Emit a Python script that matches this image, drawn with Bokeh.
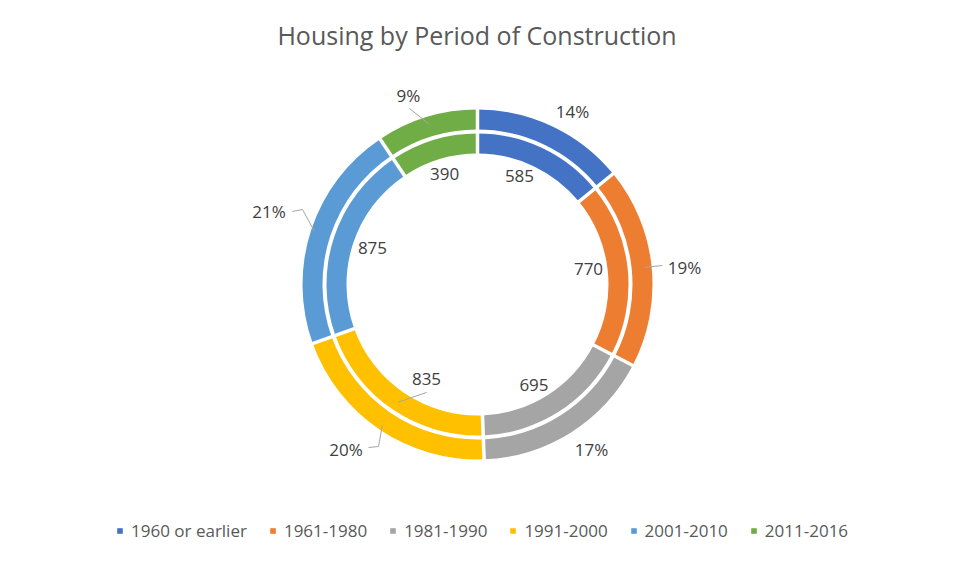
import numpy as np
from bokeh.plotting import figure
from bokeh.models import Range1d, Legend, LegendItem
from bokeh.core.properties import value
from bokeh.embed import file_html
from bokeh.resources import INLINE

# --- data -------------------------------------------------------------
periods = ["1960 or earlier", "1961-1980", "1981-1990", "1991-2000", "2001-2010", "2011-2016"]
units = [585, 770, 695, 835, 875, 390]
colors = ["#4472C4", "#ED7D31", "#A5A5A5", "#FFC000", "#5B9BD5", "#70AD47"]
title_text = "Housing by Period of Construction"

# --- layout (pixels; the plot maps 1 data unit to 1 pixel) -------------
W, H = 953, 562
CX, CY = 477, H - 284
INNER_RING = (131, 151)
OUTER_RING = (155, 175)
FONT = value("Open Sans")
TEXT_COLOR = "#404040"

# label nudges (dx right, dy down) from the default polar label spot
inner_nudge = [(-7.3, -4.6), (-3.4, -3.8), (-5, 3.8), (13.4, -0.8), (4.2, -1), (0.5, -0.5)]
outer_nudge = [(9.3, 7.7), (8, 3.4), (7.1, -4), (-19.5, -1.2), (-18.5, -10.5), (-10.8, 2.8)]
INNER_LABEL_R, OUTER_LABEL_R = 115, 200

# leader lines: (ring, slice index, bend points relative to the label, anchor radius)
leaders = [
    ("outer", 5, [(1, 12.5)], 168),
    ("outer", 1, [(-22, -2)], 168),
    ("outer", 3, [(22.5, -1.5), (32.5, -2.5)], 170),
    ("outer", 4, [(23.5, 0), (33.5, -2)], 172),
    ("inner", 3, [(0, 13.5)], 142),
]

# --- geometry ----------------------------------------------------------
total = sum(units)
frac = np.array(units, dtype=float) / total
cum = np.concatenate([[0.0], np.cumsum(frac)])
# clockwise from 12 o'clock -> bokeh's anticlockwise-from-east angles
start = np.pi / 2 - 2 * np.pi * cum[1:]
end = np.pi / 2 - 2 * np.pi * cum[:-1]
mid_cw = 2 * np.pi * (cum[:-1] + cum[1:]) / 2  # clockwise from top

def polar(r, theta_cw):
    return CX + r * np.sin(theta_cw), CY + r * np.cos(theta_cw)

p = figure(width=W, height=H, x_range=Range1d(0, W), y_range=Range1d(0, H),
           x_axis_type=None, y_axis_type=None, min_border=0,
           toolbar_location=None, output_backend="svg",
           outline_line_color=None, background_fill_color="white")
p.grid.visible = False

ring_src = dict(start=start, end=end, color=colors, period=periods)
inner = p.annular_wedge(x=CX, y=CY, inner_radius=INNER_RING[0], outer_radius=INNER_RING[1],
                        start_angle="start", end_angle="end", direction="anticlock",
                        fill_color="color", line_color=None, source=ring_src)
outer = p.annular_wedge(x=CX, y=CY, inner_radius=OUTER_RING[0], outer_radius=OUTER_RING[1],
                        start_angle="start", end_angle="end", direction="anticlock",
                        fill_color="color", line_color=None, source=dict(ring_src))

# white separators between slices
sep_theta = 2 * np.pi * cum[:-1]
x0, y0 = polar(INNER_RING[0] - 4, sep_theta)
x1, y1 = polar(OUTER_RING[1] + 4, sep_theta)
p.segment(x0=x0, y0=y0, x1=x1, y1=y1, line_color="white", line_width=3.5)

# data labels
inner_text = [str(u) for u in units]
outer_text = [f"{round(100 * u / total)}%" for u in units]
ix, iy = polar(INNER_LABEL_R, mid_cw)
ox, oy = polar(OUTER_LABEL_R, mid_cw)
ix = ix + np.array([d[0] for d in inner_nudge]); iy = iy - np.array([d[1] for d in inner_nudge])
ox = ox + np.array([d[0] for d in outer_nudge]); oy = oy - np.array([d[1] for d in outer_nudge])

# leader lines
lxs, lys = [], []
for ring, i, pts, r_anchor in leaders:
    lx, ly = (ox[i], oy[i]) if ring == "outer" else (ix[i], iy[i])
    xs = [lx + dx for dx, dy in pts]
    ys = [ly - dy for dx, dy in pts]
    ax, ay = polar(r_anchor, mid_cw[i])
    lxs.append(xs + [ax]); lys.append(ys + [ay])
p.multi_line(xs=lxs, ys=lys, line_color="#A6A6A6", line_width=1)

p.text(x=ix, y=iy, text=inner_text, text_font=FONT, text_font_size="17px",
       text_color=TEXT_COLOR, text_align="center", text_baseline="middle")
p.text(x=ox, y=oy, text=outer_text, text_font=FONT, text_font_size="17px",
       text_color=TEXT_COLOR, text_align="center", text_baseline="middle")

# title
p.text(x=[W / 2], y=[H - 34], text=[title_text], text_font=FONT, text_font_size="25px",
       text_color="#595959", text_align="center", text_baseline="middle")

legend = Legend(items=[LegendItem(label=periods[i], renderers=[inner], index=i) for i in range(len(periods))],
                orientation="horizontal", location=(116, 20),
                glyph_width=7, glyph_height=7, label_standoff=8, spacing=22,
                padding=0, margin=0, border_line_color=None, background_fill_alpha=0,
                label_text_font="Open Sans", label_text_font_size="17px",
                label_text_color="#595959")
p.add_layout(legend)

open("out.html", "w").write(file_html(p, INLINE))
